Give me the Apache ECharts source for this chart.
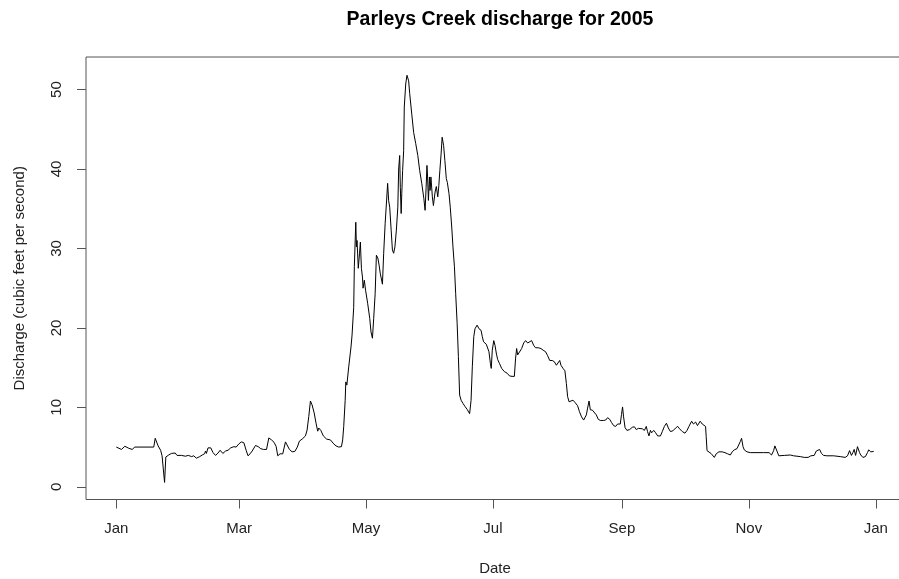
<!DOCTYPE html>
<html>
<head>
<meta charset="utf-8">
<title>Parleys Creek discharge for 2005</title>
<script src="https://cdn.jsdelivr.net/npm/echarts@6/dist/echarts.min.js"></script>
<style>
  html, body { margin: 0; padding: 0; background: #fff; }
  #chart { width: 899px; height: 579px; }
</style>
</head>
<body>
<div id="chart"></div>
<script>
// day of year 2005 (0 = Jan 1)
const dayOfYear = [
  0, 2.5, 4.1, 6.0, 7.6, 8.9, 18.0, 18.7, 19.3, 20.1,
  21.3, 22.0, 23.2, 23.8, 24.5, 25.2, 26.5, 27.4, 28.3, 29.2,
  31.4, 33.2, 34.6, 36.2, 37.2, 38.5, 39.2, 40.1, 41.3, 42.4,
  42.9, 43.3, 44.1, 45.4, 46.5, 47.7, 48.9, 49.9, 51.2, 52.5,
  53.7, 55.0, 56.5, 57.6, 58.9, 60.1, 61.3, 62.4, 63.3, 64.3,
  65.3, 66.9, 68.2, 69.4, 70.7, 72.2, 73.3, 74.6, 75.8, 76.8,
  77.6, 78.7, 80.0, 81.3, 82.2, 83.2, 84.5, 85.8, 87.0, 88.0,
  89.3, 90.2, 90.9, 91.7, 92.5, 93.3, 94.1, 95.1, 96.0, 96.8,
  97.3, 98.3, 99.5, 101.1, 102.9, 103.5, 104.5, 105.6, 106.9, 108.2,
  108.8, 109.3, 110.0, 110.3, 110.8, 111.7, 112.8, 113.3, 113.8, 114.1,
  114.4, 115.1, 115.4, 115.7, 116.3, 116.9, 117.3, 117.8, 118.3, 118.6,
  119.2, 119.8, 120.8, 121.8, 122.4, 123.1, 123.7, 124.4, 125.0, 125.7,
  126.3, 126.9, 127.9, 128.5, 129.2, 129.8, 130.4, 130.9, 131.4, 132.1,
  132.7, 133.3, 133.9, 134.6, 135.3, 135.7, 136.2, 136.5, 136.9, 137.2,
  137.6, 138.1, 138.4, 139.1, 139.7, 140.0, 140.5, 141.0, 142.0, 142.9,
  143.9, 144.9, 145.8, 146.8, 147.8, 148.4, 148.9, 149.3, 149.6, 150.0,
  150.5, 150.8, 151.2, 151.9, 152.4, 153.2, 153.8, 154.5, 155.0, 155.5,
  156.1, 156.6, 157.3, 157.9, 158.6, 159.1, 159.9, 160.5, 161.2, 161.8,
  162.5, 163.1, 163.8, 164.4, 165.0, 165.7, 166.6, 167.6, 168.6, 169.8,
  170.5, 171.1, 171.8, 172.4, 173.4, 174.3, 175.3, 175.9, 176.5, 177.8,
  178.4, 179.1, 179.8, 180.2, 180.7, 181.4, 182.0, 182.7, 183.3, 184.2,
  185.2, 186.5, 187.8, 189.0, 190.2, 191.3, 191.9, 192.4, 192.9, 193.8,
  194.8, 195.8, 196.7, 197.7, 198.6, 199.6, 200.6, 201.5, 202.8, 204.1,
  205.1, 206.3, 207.3, 208.3, 209.5, 210.5, 211.5, 212.3, 213.1, 213.7,
  214.7, 215.6, 216.3, 216.9, 217.6, 218.5, 219.5, 220.5, 221.1, 221.7,
  222.6, 223.6, 224.6, 225.2, 225.9, 226.5, 227.2, 227.8, 228.8, 229.7,
  230.7, 231.6, 232.6, 234.2, 235.2, 236.1, 237.1, 238.0, 239.0, 240.0,
  240.9, 241.6, 242.2, 242.8, 243.3, 243.8, 244.5, 245.4, 246.7, 248.0,
  249.0, 249.9, 250.9, 251.8, 252.8, 253.8, 254.7, 255.3, 256.0, 256.7,
  257.3, 258.3, 259.2, 260.2, 261.5, 262.4, 263.4, 264.4, 265.3, 266.3,
  267.5, 268.8, 269.8, 270.7, 272.0, 273.3, 274.3, 275.2, 276.5, 277.4,
  278.4, 279.3, 280.6, 281.6, 282.5, 283.2, 283.5, 283.9, 284.8, 285.8,
  286.7, 287.4, 288.3, 289.6, 291.2, 292.5, 293.8, 295.1, 296.0, 297.0,
  298.3, 299.2, 299.9, 300.5, 301.2, 301.8, 303.1, 304.7, 307.9, 311.1,
  313.7, 314.9, 315.9, 316.5, 317.5, 318.4, 321.0, 323.9, 325.5, 326.4,
  328.7, 330.6, 332.5, 333.8, 334.7, 335.4, 336.4, 337.2, 338.0, 338.9,
  339.9, 341.5, 344.7, 347.9, 350.3, 351.4, 352.4, 353.3, 354.0, 354.6,
  355.3, 356.2, 357.2, 357.8, 358.8, 360.0, 361.0, 361.6, 362.6, 364.0
];

// discharge, cubic feet per second
const discharge = [
  5.0, 4.7, 5.1, 4.85, 4.7, 5.0, 5.0, 6.1, 6.1, 5.15,
  4.6, 3.9, 0.55, 3.75, 3.8, 4.0, 4.2, 4.05, 4.25, 3.95,
  3.95, 3.85, 3.95, 3.8, 3.9, 3.6, 3.4, 3.8, 4.0, 4.15,
  4.5, 4.2, 4.9, 4.9, 4.3, 3.95, 4.25, 4.6, 4.2, 4.5,
  4.6, 4.9, 5.05, 5.0, 5.4, 5.65, 5.55, 4.6, 3.9, 4.15,
  4.5, 5.2, 5.05, 4.8, 4.7, 4.7, 6.15, 5.9, 5.6, 5.1,
  3.9, 4.15, 4.15, 5.65, 5.4, 4.7, 4.4, 4.45, 5.0, 5.75,
  6.0, 5.9, 6.4, 7.15, 8.85, 10.8, 10.3, 9.3, 8.0, 7.0,
  7.4, 7.1, 6.4, 6.0, 5.9, 5.9, 5.4, 5.15, 5.0, 5.05,
  5.9, 7.6, 10.9, 13.2, 12.8, 15.1, 17.6, 19.1, 19.1, 22.6,
  27.7, 33.3, 30.2, 31.0, 27.5, 29.4, 30.8, 27.5, 26.4, 25.0,
  26.0, 24.75, 23.1, 21.2, 19.5, 18.7, 21.2, 24.3, 29.15, 28.8,
  27.9, 26.8, 25.5, 29.4, 33.1, 35.6, 38.2, 36.0, 35.2, 32.3,
  29.8, 29.4, 30.2, 32.3, 35.2, 40.0, 41.7, 37.7, 34.4, 36.9,
  39.8, 42.3, 47.8, 50.7, 51.8, 52.05, 51.1, 49.5, 46.9, 44.6,
  43.2, 41.7, 39.8, 38.2, 36.3, 34.8, 37.7, 40.45, 39.0, 36.05,
  39.0, 37.3, 39.0, 36.5, 35.4, 37.1, 37.8, 36.5, 37.9, 39.8,
  41.9, 44.0, 42.96, 41.1, 38.8, 38.3, 36.9, 35.2, 32.7, 30.2,
  27.7, 24.3, 20.6, 16.4, 11.55, 10.9, 10.5, 10.1, 9.75, 9.2,
  10.9, 15.1, 18.9, 19.9, 20.35, 19.9, 19.7, 18.9, 18.25, 17.95,
  17.7, 17.0, 15.5, 14.9, 17.2, 18.4, 17.8, 16.7, 16.0, 15.5,
  14.9, 14.5, 14.3, 13.95, 13.9, 13.9, 16.2, 17.4, 16.6, 16.7,
  17.4, 18.1, 18.4, 18.1, 18.05, 18.4, 17.8, 17.5, 17.5, 17.4,
  17.2, 17.0, 16.5, 15.9, 15.9, 15.75, 15.3, 15.4, 15.9, 15.3,
  14.9, 14.6, 13.0, 11.35, 10.7, 10.5, 10.9, 10.6, 10.8, 10.2,
  9.45, 8.8, 8.4, 8.3, 9.05, 9.9, 10.8, 9.7, 9.65, 9.5,
  9.05, 8.5, 8.35, 8.35, 8.4, 8.7, 8.5, 8.1, 7.7, 7.6,
  7.9, 7.7, 7.9, 9.1, 10.05, 8.8, 7.45, 7.1, 7.2, 7.5,
  7.55, 7.2, 7.35, 7.15, 7.3, 7.1, 7.6, 6.95, 6.4, 7.1,
  6.8, 7.1, 6.8, 6.4, 6.4, 6.95, 7.6, 8.0, 7.4, 6.95,
  7.05, 7.4, 7.6, 7.3, 6.95, 6.75, 7.1, 7.6, 8.25, 7.9,
  8.15, 7.7, 8.25, 7.9, 7.7, 7.6, 6.3, 4.55, 4.3, 4.2,
  4.0, 3.7, 4.15, 4.4, 4.4, 4.3, 4.15, 4.0, 4.4, 4.65,
  4.8, 5.05, 5.7, 6.1, 5.05, 4.65, 4.4, 4.3, 4.3, 4.3,
  4.3, 4.0, 4.55, 5.15, 4.5, 3.9, 3.95, 4.0, 3.9, 3.7,
  3.8, 3.7, 3.7, 3.9, 4.15, 3.95, 4.5, 4.3, 4.7, 4.2,
  3.95, 3.9, 3.9, 3.8, 3.7, 3.9, 4.55, 3.95, 4.3, 4.7,
  3.95, 5.05, 4.3, 4.0, 3.7, 3.8, 4.3, 4.65, 4.4, 4.45
];

// x axis ticks (R style: every other month)
const tickDates = ['2005-01-01', '2005-03-01', '2005-05-01', '2005-07-01', '2005-09-01', '2005-11-01', '2006-01-01'];
const tickLabels = ['Jan', 'Mar', 'May', 'Jul', 'Sep', 'Nov', 'Jan'];
const yTicks = [0, 10, 20, 30, 40, 50];

const DAY = 86400000;
const start = Date.UTC(2005, 0, 1);
const tickTimes = tickDates.map(d => Date.parse(d + 'T00:00:00Z'));
const labelOf = {};
tickTimes.forEach((t, i) => { labelOf[t] = tickLabels[i]; });

const seriesData = dayOfYear.map((d, i) => [start + d * DAY, discharge[i]]);

const font = 'Liberation Sans, Arial, sans-serif';
const axisCol = '#555';

let chart = echarts.init(document.getElementById('chart'), null, { renderer: 'canvas' });
chart.setOption({
  animation: false,
  backgroundColor: '#fff',
  title: {
    text: 'Parleys Creek discharge for 2005',
    left: 495,
    top: 5,
    textAlign: 'center',
    textStyle: { fontFamily: font, fontSize: 19.5, fontWeight: 'bold', color: '#000' }
  },
  grid: {
    left: 86,
    top: 57,
    width: 818,
    height: 442.5,
    outerBoundsMode: 'none',
    show: true,
    borderColor: axisCol,
    borderWidth: 1,
    backgroundColor: 'transparent'
  },
  xAxis: {
    // timestamps on a plain value axis so the R-style ticks can be placed exactly
    type: 'value',
    // R pads the data range by 4% on each side
    min: start - 0.04 * 364 * DAY,
    max: start + 364 * DAY + 0.04 * 364 * DAY,
    name: 'Date',
    nameLocation: 'middle',
    nameGap: 62,
    nameTextStyle: { fontFamily: font, fontSize: 15, color: '#222' },
    axisLine: { show: false, onZero: false },
    splitLine: { show: false },
    axisTick: {
      show: true,
      length: 9,
      customValues: tickTimes,
      lineStyle: { color: axisCol }
    },
    axisLabel: {
      show: true,
      customValues: tickTimes,
      margin: 22,
      fontFamily: font,
      fontSize: 15,
      color: '#222',
      formatter: v => labelOf[v] || ''
    }
  },
  yAxis: {
    type: 'value',
    min: -1.6,
    max: 54.1,
    name: 'Discharge (cubic feet per second)',
    nameLocation: 'middle',
    nameRotate: 90,
    nameGap: 59,
    nameTextStyle: { fontFamily: font, fontSize: 15, color: '#222' },
    axisLine: { show: false, onZero: false },
    splitLine: { show: false },
    axisTick: {
      show: true,
      length: 9,
      customValues: yTicks,
      lineStyle: { color: axisCol }
    },
    axisLabel: {
      show: true,
      customValues: yTicks,
      rotate: 90,
      margin: 22,
      fontFamily: font,
      fontSize: 15,
      color: '#222'
    }
  },
  series: [{
    type: 'line',
    data: seriesData,
    showSymbol: false,
    symbol: 'none',
    lineStyle: { color: '#000', width: 1 },
    clip: true
  }]
});
</script>
</body>
</html>
